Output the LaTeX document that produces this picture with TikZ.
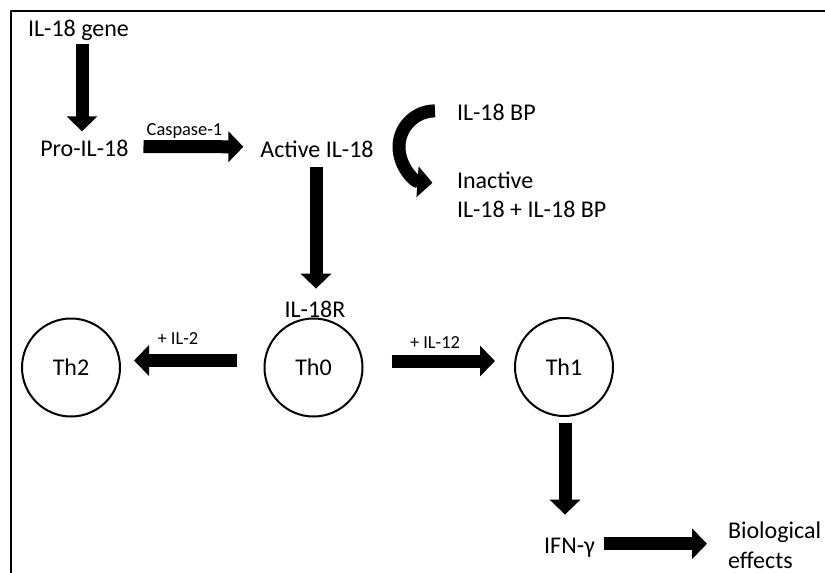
\documentclass[tikz,border=0pt]{standalone}
\usepackage{fontspec}
\setmainfont{Carlito}
\usetikzlibrary{arrows.meta,calc}

\begin{document}
\begin{tikzpicture}[x=0.5pt,y=-0.5pt,line join=round,
  every node/.style={inner sep=0pt,outer sep=0pt,font=\fontsize{12}{14.75}\selectfont},
  lbl/.style={font=\fontsize{9.2}{11}\selectfont},
  cell/.style={circle,draw,line width=1pt,minimum size=49pt},
  blk/.style={line width=6.5pt,-{Triangle[length=7.5pt,width=15pt]}}]
  \useasboundingbox (0,0) rectangle (825,573);
  % frame: only the top and left edges lie on the page
  \draw[line width=1pt] (11,573) -- (11,11) -- (825,11);
  % processing of IL-18
  \node[anchor=base] (gene) at (78.5,36.7) {IL-18 gene};
  \node[anchor=base] (pro) at (84.4,156.7) {Pro-IL-18};
  \node[anchor=base] (act) at (317,157) {Active IL-18};
  \node[anchor=base,lbl] (casp) at (184.5,135.5) {Caspase-1};
  \draw[blk] ($(gene.south)+(3.5,3)$) -- ($(gene.south |- pro.north)+(3.5,-9)$);
  \draw[blk] ($(pro.east)+(15,-2)$) -- ($(act.west)+(-17,-2)$);
  % binding protein
  \node[anchor=base west] (bp) at (457,120) {IL-18 BP};
  \node[anchor=base west] (inact) at (457,188) {Inactive};
  \node[anchor=base west] (cplx) at (457,217) {IL-18 + IL-18 BP};
  \draw[blk] ($(bp.west)+(-22,-1)$) arc[start angle=270,end angle=94,radius=36];
  % receptor and T cells
  \node[anchor=base] (rec) at (315,317.5) {IL-18R};
  \draw[blk] ($(act.south)+(-1,10)$) -- ($(act.south |- rec.north)+(-1,-12.5)$);
  \node[cell] (th2) at (71,367.5) {Th2};
  \node[cell] (th0) at (313.5,367.5) {Th0};
  \node[cell] (th1) at (564,367) {Th1};
  \node[anchor=base,lbl] (il2) at (178,344) {+ IL-2};
  \node[anchor=base,lbl] (il12) at (435,348) {+ IL-12};
  \draw[blk] ($(th0.west)+(-27.5,-7)$) -- ($(th2.east)+(14,-7)$);
  \draw[blk] ($(th0.east)+(29,-6.5)$) -- ($(th1.west)+(-20,-6)$);
  % effector output
  \node[anchor=base] (ifn) at (569.5,553) {IFN-γ};
  \node[anchor=base west] (bio) at (728,538) {Biological};
  \node[anchor=base west] (eff) at (728,568) {effects};
  \draw[blk] ($(th1.south)+(1,7)$) -- ($(th1.south |- ifn.north)+(1,-23)$);
  \draw[blk] ($(ifn.east)+(9,-3.5)$) -- ($(ifn.east -| bio.west)+(-21,-3.5)$);
\end{tikzpicture}
\end{document}
